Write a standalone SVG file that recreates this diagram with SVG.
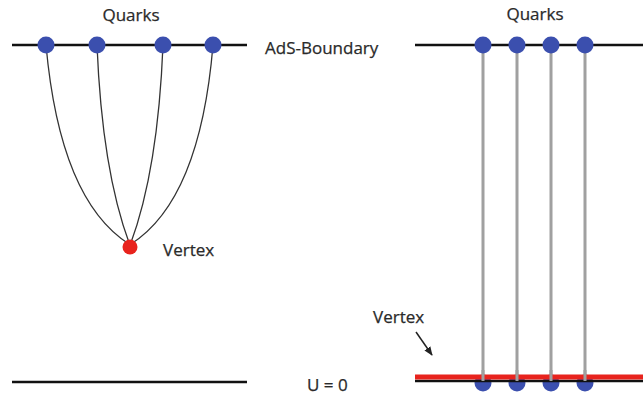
<svg xmlns="http://www.w3.org/2000/svg" width="643" height="396" viewBox="0 0 643 396">
<defs>
<style>
.t{font-family:"Open Sans","Liberation Sans",sans-serif;font-size:17px;fill:#2a2a2a;stroke:#2a2a2a;stroke-width:0.25;}
.bl{stroke:#111;stroke-width:2.6;fill:none;}
.cv{stroke:#333;stroke-width:1.3;fill:none;}
.gl{stroke:#a0a0a0;stroke-width:3;fill:none;}
.q{fill:#3b4fae;}
</style>
<marker id="ah" viewBox="0 0 10 10" refX="9" refY="5" markerWidth="6" markerHeight="6" orient="auto"><path d="M0,1 L10,5 L0,9 Z" fill="#222"/></marker>
</defs>
<rect width="643" height="396" fill="#fff"/>
<g id="connectors">
<path class="cv" d="M46,45 Q60,200 129,244"/>
<path class="cv" d="M97,45 Q102,170 129.5,244"/>
<path class="cv" d="M163,45 Q158,170 130.5,244"/>
<path class="cv" d="M213,45 Q200,200 131,244"/>
<line class="gl" x1="483" y1="45" x2="483" y2="381"/>
<line class="gl" x1="517" y1="45" x2="517" y2="381"/>
<line class="gl" x1="551" y1="45" x2="551" y2="381"/>
<line class="gl" x1="585" y1="45" x2="585" y2="381"/>
<line x1="416" y1="332" x2="432" y2="355" stroke="#222" stroke-width="1.5" marker-end="url(#ah)"/>
</g>
<g id="left-boundary">
<line class="bl" x1="12" y1="45" x2="247" y2="45"/>
<text class="t" x="265" y="54">AdS-Boundary</text>
</g>
<g id="left-quarks">
<circle class="q" cx="46" cy="45" r="8.5"/>
<circle class="q" cx="97" cy="45" r="8.5"/>
<circle class="q" cx="163" cy="45" r="8.5"/>
<circle class="q" cx="213" cy="45" r="8.5"/>
<text class="t" x="131" y="21" text-anchor="middle">Quarks</text>
</g>
<g id="left-vertex">
<circle cx="130" cy="247" r="7.5" fill="#e8231d"/>
<text class="t" x="163" y="256">Vertex</text>
</g>
<g id="left-bottom">
<line class="bl" x1="12" y1="382" x2="247" y2="382"/>
<text class="t" x="307" y="391">U = 0</text>
</g>
<g id="right-boundary">
<line class="bl" x1="415" y1="45" x2="643" y2="45"/>
</g>
<g id="right-quarks-top">
<circle class="q" cx="483" cy="45" r="8.5"/>
<circle class="q" cx="517" cy="45" r="8.5"/>
<circle class="q" cx="551" cy="45" r="8.5"/>
<circle class="q" cx="585" cy="45" r="8.5"/>
<text class="t" x="535" y="20" text-anchor="middle">Quarks</text>
</g>
<g id="right-bottom">
<circle class="q" cx="483" cy="383" r="8.5"/>
<circle class="q" cx="517" cy="383" r="8.5"/>
<circle class="q" cx="551" cy="383" r="8.5"/>
<circle class="q" cx="585" cy="383" r="8.5"/>
<line class="bl" x1="415" y1="381" x2="643" y2="381"/>
<line x1="415" y1="377" x2="643" y2="377" stroke="#e8231d" stroke-width="5"/>
<line class="gl" x1="483" y1="370" x2="483" y2="381"/>
<line class="gl" x1="517" y1="370" x2="517" y2="381"/>
<line class="gl" x1="551" y1="370" x2="551" y2="381"/>
<line class="gl" x1="585" y1="370" x2="585" y2="381"/>
</g>
<g id="right-vertex">
<text class="t" x="373" y="323">Vertex</text>
</g>
</svg>
